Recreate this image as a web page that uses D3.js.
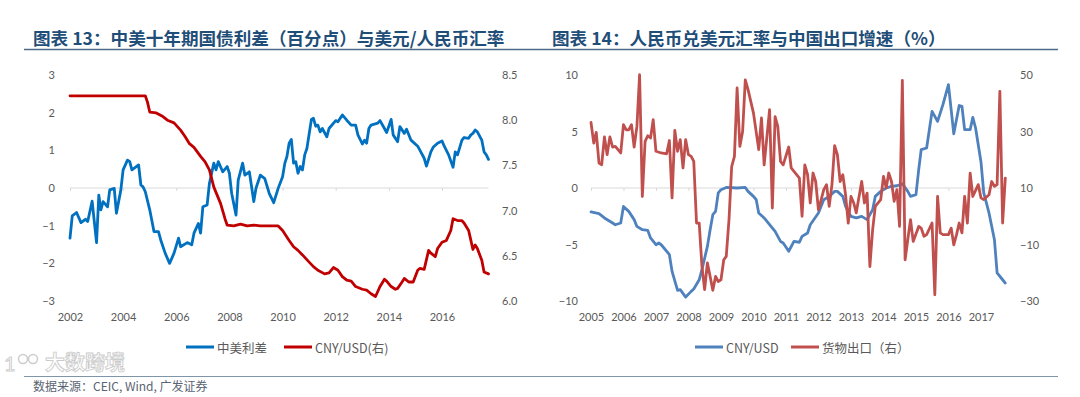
<!DOCTYPE html>
<html><head><meta charset="utf-8">
<script src="https://cdn.jsdelivr.net/npm/d3@7"></script>
<style>
html,body{margin:0;padding:0;background:#fff;}
svg{display:block;}
</style></head>
<body>
<svg id="c" width="1080" height="397"></svg>
<script>
// ---------- Chart 13 data ----------
const spreadDates = ["2002-01","2002-02","2002-04","2002-06","2002-08","2002-09","2002-11","2003-01","2003-02","2003-03","2003-04","2003-06","2003-07","2003-09","2003-10","2003-12","2004-01","2004-03","2004-04","2004-05","2004-07","2004-08","2004-09","2004-10","2004-11","2005-01","2005-03","2005-05","2005-06","2005-08","2005-10","2005-12","2006-02","2006-03","2006-06","2006-08","2006-09","2006-11","2006-12","2007-01","2007-03","2007-04","2007-06","2007-07","2007-08","2007-10","2007-12","2008-01","2008-02","2008-04","2008-05","2008-07","2008-08","2008-10","2008-12","2009-01","2009-03","2009-05","2009-07","2009-09","2009-11","2010-01","2010-02","2010-03","2010-04","2010-05","2010-06","2010-07","2010-08","2010-09","2010-10","2010-11","2010-12","2011-02","2011-03","2011-04","2011-05","2011-06","2011-07","2011-09","2011-10","2012-01","2012-02","2012-04","2012-06","2012-08","2012-10","2012-11","2013-01","2013-02","2013-03","2013-04","2013-05","2013-08","2013-09","2013-11","2013-12","2014-02","2014-03","2014-05","2014-06","2014-08","2014-09","2014-11","2015-02","2015-03","2015-05","2015-06","2015-08","2015-09","2015-11","2016-01","2016-02","2016-04","2016-06","2016-07","2016-08","2016-10","2016-11","2017-01","2017-02","2017-03","2017-04","2017-05","2017-07","2017-08","2017-09","2017-10"];
const spreadValues = [-1.33,-0.74,-0.65,-0.92,-0.83,-0.89,-0.35,-1.45,-0.19,-0.58,-0.36,-0.50,-0.05,-0.01,-0.67,-0.05,0.48,0.74,0.70,0.48,0.57,0.61,0.08,0.03,-0.10,-0.58,-1.16,-1.16,-1.38,-1.73,-2.00,-1.73,-1.33,-1.56,-1.45,-1.51,-1.20,-0.94,-1.20,-0.50,-0.45,0.12,0.66,0.48,0.70,0.43,0.57,0.39,-0.14,-0.72,0.21,0.66,0.34,0.43,-0.36,0.00,0.34,0.25,-0.14,-0.39,-0.01,0.30,0.66,0.83,1.19,1.29,0.66,0.70,0.39,0.57,0.48,0.88,1.05,1.82,1.85,1.64,1.67,1.49,1.58,1.36,1.58,1.79,1.76,1.94,1.80,1.67,1.67,1.41,1.17,1.27,1.19,1.58,1.67,1.72,1.79,1.58,1.47,1.82,1.41,1.23,1.63,1.45,1.56,1.27,1.11,1.01,0.79,0.58,0.96,1.08,1.19,1.25,1.11,0.88,0.55,0.96,0.88,1.27,1.34,1.32,1.41,1.45,1.54,1.49,1.27,0.96,0.88,0.76];

const fxDates = ["2002-01","2004-11","2004-12","2005-01","2005-04","2005-07","2005-09","2005-12","2006-03","2006-05","2006-07","2006-09","2006-12","2007-02","2007-04","2007-06","2007-09","2007-11","2007-12","2008-03","2008-06","2008-09","2008-12","2009-03","2009-07","2009-11","2010-01","2010-04","2010-06","2010-08","2010-10","2011-01","2011-03","2011-05","2011-08","2011-10","2011-12","2012-02","2012-04","2012-06","2012-08","2012-10","2013-01","2013-03","2013-05","2013-07","2013-09","2013-11","2013-12","2014-02","2014-04","2014-05","2014-07","2014-08","2014-10","2014-12","2015-02","2015-03","2015-05","2015-07","2015-08","2015-10","2015-11","2016-01","2016-03","2016-05","2016-06","2016-08","2016-10","2016-11","2017-01","2017-02","2017-03","2017-04","2017-05","2017-07","2017-08","2017-10"];
const fxValues = [8.27,8.27,8.20,8.09,8.08,8.04,8.00,7.97,7.89,7.82,7.74,7.70,7.60,7.54,7.45,7.26,7.08,6.91,6.84,6.83,6.85,6.83,6.84,6.83,6.83,6.83,6.78,6.67,6.60,6.56,6.51,6.43,6.38,6.34,6.30,6.31,6.37,6.34,6.27,6.23,6.22,6.16,6.13,6.12,6.08,6.05,6.16,6.24,6.22,6.16,6.13,6.14,6.21,6.25,6.21,6.21,6.34,6.36,6.35,6.56,6.53,6.49,6.58,6.65,6.67,6.78,6.91,6.89,6.89,6.86,6.78,6.67,6.57,6.62,6.58,6.45,6.32,6.30];

const left1Ticks = [-3,-2,-1,0,1,2,3];
const right1Ticks = [6.0,6.5,7.0,7.5,8.0,8.5];
const x1TickYears = [2002,2004,2006,2008,2010,2012,2014,2016];

// ---------- Chart 14 data ----------
const cnyDates = ["2005-01","2005-04","2005-06","2005-09","2005-10","2005-12","2006-01","2006-03","2006-05","2006-06","2006-08","2006-10","2006-11","2007-01","2007-02","2007-03","2007-04","2007-06","2007-07","2007-09","2007-10","2007-12","2008-02","2008-03","2008-05","2008-06","2008-08","2008-09","2008-10","2008-11","2008-12","2009-01","2009-03","2009-07","2009-10","2009-11","2010-01","2010-02","2010-03","2010-05","2010-07","2010-09","2010-11","2010-12","2011-02","2011-04","2011-06","2011-07","2011-09","2011-10","2012-01","2012-03","2012-05","2012-07","2012-08","2012-10","2012-11","2013-01","2013-03","2013-05","2013-07","2013-09","2013-10","2013-12","2014-02","2014-04","2014-06","2014-08","2014-10","2014-11","2015-01","2015-02","2015-03","2015-05","2015-07","2015-09","2015-11","2016-01","2016-03","2016-05","2016-06","2016-07","2016-09","2016-10","2016-11","2017-01","2017-02","2017-04","2017-06","2017-07","2017-09","2017-10"];
const cnyValues = [-2.12,-2.27,-2.65,-3.10,-3.25,-3.10,-1.63,-2.07,-2.80,-3.40,-3.69,-3.75,-4.42,-5.02,-4.87,-5.02,-5.31,-5.90,-7.38,-9.06,-9.00,-9.65,-9.15,-8.94,-8.12,-7.23,-5.17,-3.69,-2.36,-2.07,-0.44,-0.15,0.05,0.00,0.05,-0.30,-0.74,-1.04,-2.21,-2.65,-3.25,-3.84,-4.73,-4.87,-5.60,-4.73,-4.80,-4.28,-3.98,-3.25,-2.21,-1.04,-0.74,-0.30,-0.30,-0.74,-1.63,-2.51,-2.65,-2.51,-2.80,-1.92,-0.74,-0.30,0.00,0.14,0.20,0.38,-0.30,-0.74,-0.59,1.62,3.39,3.54,6.78,5.90,7.40,9.14,4.80,7.30,7.22,5.16,5.16,6.25,5.31,2.30,-0.44,-2.21,-4.58,-7.52,-8.12,-8.41];

const exportDates = ["2005-01","2005-02","2005-03","2005-04","2005-05","2005-06","2005-07","2005-08","2005-09","2005-10","2005-12","2006-01","2006-02","2006-03","2006-04","2006-05","2006-06","2006-07","2006-08","2006-09","2006-10","2006-11","2006-12","2007-01","2007-03","2007-05","2007-06","2007-07","2007-08","2007-09","2007-10","2007-11","2007-12","2008-01","2008-02","2008-03","2008-04","2008-05","2008-06","2008-07","2008-08","2008-09","2008-10","2008-11","2008-12","2009-01","2009-02","2009-03","2009-04","2009-05","2009-06","2009-07","2009-08","2009-09","2009-10","2009-11","2010-01","2010-03","2010-04","2010-05","2010-07","2010-08","2010-09","2010-10","2010-11","2010-12","2011-02","2011-03","2011-04","2011-06","2011-07","2011-08","2011-09","2011-10","2011-11","2011-12","2012-01","2012-02","2012-03","2012-04","2012-05","2012-06","2012-07","2012-08","2012-09","2012-10","2012-11","2012-12","2013-01","2013-02","2013-03","2013-05","2013-06","2013-07","2013-08","2013-09","2013-10","2013-12","2014-01","2014-02","2014-03","2014-04","2014-05","2014-06","2014-07","2014-08","2014-09","2014-10","2014-11","2014-12","2015-02","2015-03","2015-04","2015-05","2015-07","2015-08","2015-09","2015-10","2015-11","2016-01","2016-02","2016-03","2016-04","2016-05","2016-06","2016-07","2016-08","2016-09","2016-10","2016-12","2017-01","2017-02","2017-04","2017-05","2017-06","2017-07","2017-08","2017-09","2017-10"];
const exportValues = [33.2,25.9,29.7,18.8,18.2,28.1,21.8,28.1,24.5,24.7,22.4,32.4,30.6,30.6,32.4,24.5,31.8,50.1,7.0,26.5,28.5,27.7,34.2,23.0,22.4,22.1,26.8,6.5,30.4,23.0,27.1,17.1,27.1,21.8,21.2,19.4,-2.4,-2.4,-17.8,-26.0,-16.5,-21.3,-26.2,-21.3,-23.1,-22.5,-15.4,-14.2,-1.2,17.6,21.2,45.4,24.7,30.0,48.3,44.8,36.5,23.6,34.8,18.2,37.7,2.9,35.3,31.8,19.4,18.2,24.5,17.1,15.9,13.5,0.0,18.2,14.7,4.7,15.3,12.3,2.3,5.9,9.4,11.2,3.5,11.2,25.0,21.8,12.3,14.7,7.6,-2.4,7.0,4.7,1.2,12.3,4.7,8.2,-17.8,-4.8,3.5,5.9,14.1,10.0,15.3,12.3,5.3,9.4,-3.6,48.1,-15.4,-8.3,-1.2,-8.9,-3.6,-4.2,-7.1,-6.5,-2.4,-27.8,7.0,-5.9,-6.5,-6.5,-4.2,-10.1,-6.5,-2.4,-5.9,7.0,-2.4,15.3,7.0,11.2,6.5,5.9,7.6,12.3,10.6,11.2,44.2,-2.4,13.5];

const left2Ticks = [-10,-5,0,5,10];
const right2Ticks = [-30,-10,10,30,50];
const x2TickYears = [2005,2006,2007,2008,2009,2010,2011,2012,2013,2014,2015,2016,2017];

// ---------- texts ----------
const title1 = "图表 13：中美十年期国债利差（百分点）与美元/人民币汇率";
const title2 = "图表 14：人民币兑美元汇率与中国出口增速（%）";
const legend1 = ["中美利差","CNY/USD(右)"];
const legend2 = ["CNY/USD","货物出口（右）"];
const sourceText = "数据来源：CEIC, Wind, 广发证券";

// ---------- drawing ----------
const parse = d3.timeParse("%Y-%m");
const svg = d3.select("#c");
const NUM_FONT = "Lato, 'Open Sans', 'Noto Sans CJK SC', sans-serif";
const CJK_FONT = "'Noto Sans CJK SC', 'Noto Sans', sans-serif";
const LABEL = "#595959";

function pts(dates, vals){ return dates.map((d,i)=>({t:parse(d), v:vals[i]})); }

function drawPanel(o){
  const g = svg.append("g");
  const x = d3.scaleTime().domain(o.xDomain.map(parse)).range(o.xRange);
  const yL = d3.scaleLinear().domain(o.yLDomain).range([301,75]);
  const yR = d3.scaleLinear().domain(o.yRDomain).range([301,75]);
  const zeroY = yL(0);
  const tickDates = o.tickYears.map(y=>new Date(y,0,1));

  // zero axis line
  g.append("line").attr("x1",x(o.axisStart)).attr("x2",x(o.axisEnd))
    .attr("y1",zeroY).attr("y2",zeroY).attr("stroke","#d9d9d9").attr("stroke-width",1);
  const tg = g.append("g").attr("transform",`translate(0,${zeroY})`)
    .call(d3.axisBottom(x).tickValues(tickDates).tickSize(3).tickFormat(""));
  tg.select(".domain").remove();
  tg.selectAll("line").attr("stroke","#d9d9d9");

  // x labels
  const xl = g.append("g").attr("transform",`translate(0,313)`)
    .call(d3.axisBottom(x).tickValues(tickDates).tickSize(0).tickPadding(0).tickFormat(d3.timeFormat("%Y")));
  xl.select(".domain").remove();
  xl.selectAll("text").attr("font-family",NUM_FONT).attr("font-size","11px").attr("fill",LABEL).attr("dy","0.71em");

  // left y labels
  const yl = g.append("g").attr("transform",`translate(${o.leftLabelX},0)`)
    .call(d3.axisLeft(yL).tickValues(o.leftTicks).tickSize(0).tickPadding(0).tickFormat(d3.format("d")));
  yl.select(".domain").remove();
  yl.selectAll("text").attr("font-family",NUM_FONT).attr("font-size","11px").attr("fill",LABEL);

  // right y labels
  const yr = g.append("g").attr("transform",`translate(${o.rightLabelX},0)`)
    .call(d3.axisRight(yR).tickValues(o.rightTicks).tickSize(0).tickPadding(0).tickFormat(d3.format(o.rightFmt)));
  yr.select(".domain").remove();
  yr.selectAll("text").attr("font-family",NUM_FONT).attr("font-size","11px").attr("fill",LABEL);

  // series
  o.series.forEach(s=>{
    const sc = s.axis==="R" ? yR : yL;
    g.append("path").datum(pts(s.dates,s.values))
      .attr("fill","none").attr("stroke",s.color).attr("stroke-width",2.8)
      .attr("stroke-linejoin","round").attr("stroke-linecap","round")
      .attr("d", d3.line().x(d=>x(d.t)).y(d=>sc(d.v)));
  });

  // title
  g.append("text").attr("x",o.titleX).attr("y",45)
    .attr("font-family",CJK_FONT).attr("font-weight",700).attr("font-size","17.6px")
    .attr("fill","#1f4e79").text(o.title);

  // legend
  const lg = g.append("g");
  o.legend.forEach((L,i)=>{
    lg.append("line").attr("x1",L.x).attr("x2",L.x+28).attr("y1",347).attr("y2",347)
      .attr("stroke",o.series[i].color).attr("stroke-width",3);
    lg.append("text").attr("x",L.x+31).attr("y",347).attr("dominant-baseline","central")
      .attr("font-family",CJK_FONT).attr("font-size","12.5px").attr("fill",LABEL).text(L.text);
  });
}

drawPanel({
  xDomain:["2002-01","2016-01"], xRange:[70,442],
  axisStart:parse("2002-01"), axisEnd:parse("2017-10"),
  yLDomain:[-3,3], yRDomain:[6,8.5],
  tickYears:x1TickYears, leftTicks:left1Ticks, rightTicks:right1Ticks, rightFmt:".1f",
  leftLabelX:55, rightLabelX:502,
  series:[
    {dates:spreadDates, values:spreadValues, color:"#0070c0", axis:"L"},
    {dates:fxDates, values:fxValues, color:"#c00000", axis:"R"}
  ],
  title:title1, titleX:33,
  legend:[{x:186,text:legend1[0]},{x:284,text:legend1[1]}]
});

drawPanel({
  xDomain:["2005-01","2017-01"], xRange:[591,981],
  axisStart:parse("2005-01"), axisEnd:parse("2017-10"),
  yLDomain:[-10,10], yRDomain:[-30,50],
  tickYears:x2TickYears, leftTicks:left2Ticks, rightTicks:right2Ticks, rightFmt:"d",
  leftLabelX:578, rightLabelX:1020,
  series:[
    {dates:cnyDates, values:cnyValues, color:"#4f81bd", axis:"L"},
    {dates:exportDates, values:exportValues, color:"#c0504d", axis:"R"}
  ],
  title:title2, titleX:552,
  legend:[{x:695,text:legend2[0]},{x:791,text:legend2[1]}]
});

// header / footer rules
svg.append("line").attr("x1",24).attr("x2",1058).attr("y1",49.5).attr("y2",49.5)
  .attr("stroke","#4d6a86").attr("stroke-width",1.3);
svg.append("line").attr("x1",24).attr("x2",1058).attr("y1",376.5).attr("y2",376.5)
  .attr("stroke","#7f95a8").attr("stroke-width",1.2);

// source
svg.append("text").attr("x",33).attr("y",391).attr("font-family",CJK_FONT)
  .attr("font-size","12px").attr("fill","#5a6472").text(sourceText);

// watermark (kept above the source line so the texts do not collide)
const wm = svg.append("g").attr("opacity",0.85);
wm.append("text").attr("x",4).attr("y",371).attr("font-family",NUM_FONT).attr("font-size","20px")
  .attr("fill","#ffffff").attr("stroke","#c4c4c4").attr("stroke-width",0.9).text("1");
wm.append("circle").attr("cx",23).attr("cy",359).attr("r",4.5).attr("fill","none").attr("stroke","#c4c4c4").attr("stroke-width",1.5);
wm.append("circle").attr("cx",33).attr("cy",359).attr("r",4.5).attr("fill","none").attr("stroke","#c4c4c4").attr("stroke-width",1.5);
wm.append("text").attr("x",45).attr("y",370).attr("font-family",CJK_FONT).attr("font-size","20px")
  .attr("font-weight",700).attr("fill","#ffffff").attr("fill-opacity",0.7)
  .attr("stroke","#c4c4c4").attr("stroke-width",0.9).text("大数跨境");
</script>
</body></html>
